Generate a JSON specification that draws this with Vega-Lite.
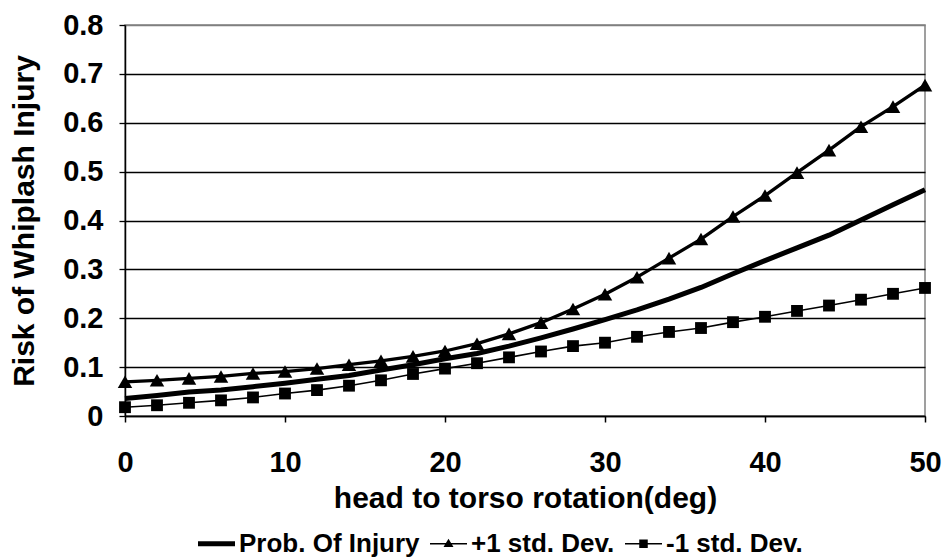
{
  "$schema": "https://vega.github.io/schema/vega-lite/v6.json",
  "width": 800,
  "height": 391,
  "autosize": {"type": "none"},
  "padding": {"left": 125, "top": 25, "right": 17, "bottom": 143},
  "background": "white",
  "config": {
    "font": "Liberation Sans",
    "view": {"stroke": "#808080", "strokeWidth": 1.5}
  },
  "data": {
    "values": [
      {"deg": 0, "series": "Prob. Of Injury", "risk": 0.036},
      {"deg": 2, "series": "Prob. Of Injury", "risk": 0.042},
      {"deg": 4, "series": "Prob. Of Injury", "risk": 0.049},
      {"deg": 6, "series": "Prob. Of Injury", "risk": 0.053},
      {"deg": 8, "series": "Prob. Of Injury", "risk": 0.06},
      {"deg": 10, "series": "Prob. Of Injury", "risk": 0.067},
      {"deg": 12, "series": "Prob. Of Injury", "risk": 0.075},
      {"deg": 14, "series": "Prob. Of Injury", "risk": 0.083},
      {"deg": 16, "series": "Prob. Of Injury", "risk": 0.094},
      {"deg": 18, "series": "Prob. Of Injury", "risk": 0.105},
      {"deg": 20, "series": "Prob. Of Injury", "risk": 0.117},
      {"deg": 22, "series": "Prob. Of Injury", "risk": 0.128},
      {"deg": 24, "series": "Prob. Of Injury", "risk": 0.143},
      {"deg": 26, "series": "Prob. Of Injury", "risk": 0.16},
      {"deg": 28, "series": "Prob. Of Injury", "risk": 0.178},
      {"deg": 30, "series": "Prob. Of Injury", "risk": 0.197},
      {"deg": 32, "series": "Prob. Of Injury", "risk": 0.217},
      {"deg": 34, "series": "Prob. Of Injury", "risk": 0.239},
      {"deg": 36, "series": "Prob. Of Injury", "risk": 0.263},
      {"deg": 38, "series": "Prob. Of Injury", "risk": 0.291},
      {"deg": 40, "series": "Prob. Of Injury", "risk": 0.318},
      {"deg": 42, "series": "Prob. Of Injury", "risk": 0.344},
      {"deg": 44, "series": "Prob. Of Injury", "risk": 0.37},
      {"deg": 46, "series": "Prob. Of Injury", "risk": 0.401},
      {"deg": 48, "series": "Prob. Of Injury", "risk": 0.432},
      {"deg": 50, "series": "Prob. Of Injury", "risk": 0.463},
      {"deg": 0, "series": "+1 std. Dev.", "risk": 0.07},
      {"deg": 2, "series": "+1 std. Dev.", "risk": 0.073},
      {"deg": 4, "series": "+1 std. Dev.", "risk": 0.077},
      {"deg": 6, "series": "+1 std. Dev.", "risk": 0.081},
      {"deg": 8, "series": "+1 std. Dev.", "risk": 0.087},
      {"deg": 10, "series": "+1 std. Dev.", "risk": 0.091},
      {"deg": 12, "series": "+1 std. Dev.", "risk": 0.097},
      {"deg": 14, "series": "+1 std. Dev.", "risk": 0.105},
      {"deg": 16, "series": "+1 std. Dev.", "risk": 0.113},
      {"deg": 18, "series": "+1 std. Dev.", "risk": 0.122},
      {"deg": 20, "series": "+1 std. Dev.", "risk": 0.133},
      {"deg": 22, "series": "+1 std. Dev.", "risk": 0.148},
      {"deg": 24, "series": "+1 std. Dev.", "risk": 0.168},
      {"deg": 26, "series": "+1 std. Dev.", "risk": 0.191},
      {"deg": 28, "series": "+1 std. Dev.", "risk": 0.219},
      {"deg": 30, "series": "+1 std. Dev.", "risk": 0.249},
      {"deg": 32, "series": "+1 std. Dev.", "risk": 0.284},
      {"deg": 34, "series": "+1 std. Dev.", "risk": 0.323},
      {"deg": 36, "series": "+1 std. Dev.", "risk": 0.362},
      {"deg": 38, "series": "+1 std. Dev.", "risk": 0.408},
      {"deg": 40, "series": "+1 std. Dev.", "risk": 0.451},
      {"deg": 42, "series": "+1 std. Dev.", "risk": 0.498},
      {"deg": 44, "series": "+1 std. Dev.", "risk": 0.544},
      {"deg": 46, "series": "+1 std. Dev.", "risk": 0.592},
      {"deg": 48, "series": "+1 std. Dev.", "risk": 0.633},
      {"deg": 50, "series": "+1 std. Dev.", "risk": 0.677},
      {"deg": 0, "series": "-1 std. Dev.", "risk": 0.018},
      {"deg": 2, "series": "-1 std. Dev.", "risk": 0.022},
      {"deg": 4, "series": "-1 std. Dev.", "risk": 0.027},
      {"deg": 6, "series": "-1 std. Dev.", "risk": 0.032},
      {"deg": 8, "series": "-1 std. Dev.", "risk": 0.038},
      {"deg": 10, "series": "-1 std. Dev.", "risk": 0.046},
      {"deg": 12, "series": "-1 std. Dev.", "risk": 0.053},
      {"deg": 14, "series": "-1 std. Dev.", "risk": 0.062},
      {"deg": 16, "series": "-1 std. Dev.", "risk": 0.073},
      {"deg": 18, "series": "-1 std. Dev.", "risk": 0.086},
      {"deg": 20, "series": "-1 std. Dev.", "risk": 0.097},
      {"deg": 22, "series": "-1 std. Dev.", "risk": 0.108},
      {"deg": 24, "series": "-1 std. Dev.", "risk": 0.12},
      {"deg": 26, "series": "-1 std. Dev.", "risk": 0.132},
      {"deg": 28, "series": "-1 std. Dev.", "risk": 0.143},
      {"deg": 30, "series": "-1 std. Dev.", "risk": 0.15},
      {"deg": 32, "series": "-1 std. Dev.", "risk": 0.162},
      {"deg": 34, "series": "-1 std. Dev.", "risk": 0.172},
      {"deg": 36, "series": "-1 std. Dev.", "risk": 0.18},
      {"deg": 38, "series": "-1 std. Dev.", "risk": 0.192},
      {"deg": 40, "series": "-1 std. Dev.", "risk": 0.203},
      {"deg": 42, "series": "-1 std. Dev.", "risk": 0.215},
      {"deg": 44, "series": "-1 std. Dev.", "risk": 0.226},
      {"deg": 46, "series": "-1 std. Dev.", "risk": 0.238},
      {"deg": 48, "series": "-1 std. Dev.", "risk": 0.25},
      {"deg": 50, "series": "-1 std. Dev.", "risk": 0.262}
    ]
  },
  "encoding": {
    "x": {
      "field": "deg",
      "type": "quantitative",
      "scale": {"domain": [0, 50], "nice": false, "zero": false},
      "axis": {
        "title": "head to torso rotation(deg)",
        "values": [0, 10, 20, 30, 40, 50],
        "grid": false,
        "domainColor": "black",
        "domainWidth": 1.5,
        "tickColor": "black",
        "tickSize": 6,
        "tickWidth": 1.5,
        "labelFont": "Liberation Sans",
        "labelFontSize": 29,
        "labelFontWeight": "bold",
        "labelColor": "black",
        "labelPadding": 26,
        "labelFlush": false,
        "titleFont": "Liberation Sans",
        "titleFontSize": 30,
        "titleFontWeight": "bold",
        "titleColor": "black",
        "titlePadding": 6
      }
    },
    "y": {
      "field": "risk",
      "type": "quantitative",
      "scale": {"domain": [0, 0.8], "nice": false},
      "axis": {
        "title": "Risk of Whiplash Injury",
        "values": [0, 0.1, 0.2, 0.3, 0.4, 0.5, 0.6, 0.7, 0.8],
        "labelExpr": "datum.value == 0 ? '0' : format(datum.value, '.1f')",
        "grid": true,
        "gridColor": {"condition": {"test": "datum.value > 0.75", "value": "#808080"}, "value": "black"},
        "gridWidth": 1.3,
        "domainColor": "black",
        "domainWidth": 1.5,
        "tickColor": "black",
        "tickSize": 6,
        "tickWidth": 1.3,
        "labelFont": "Liberation Sans",
        "labelFontSize": 29,
        "labelFontWeight": "bold",
        "labelColor": "black",
        "labelPadding": 16,
        "labelFlush": false,
        "titleFont": "Liberation Sans",
        "titleFontSize": 30,
        "titleFontWeight": "bold",
        "titleColor": "black",
        "titlePadding": 23
      }
    }
  },
  "layer": [
    {
      "mark": {"type": "line", "color": "black", "strokeJoin": "round"},
      "encoding": {
        "detail": {"field": "series", "type": "nominal"},
        "strokeWidth": {
          "field": "series",
          "type": "nominal",
          "scale": {"domain": ["Prob. Of Injury", "+1 std. Dev.", "-1 std. Dev."], "range": [5, 1.6, 1.6]},
          "legend": null
        }
      }
    },
    {
      "transform": [{"filter": "datum.series != 'Prob. Of Injury'"}],
      "mark": {"type": "point", "filled": true, "color": "black", "opacity": 1},
      "encoding": {
        "shape": {
          "field": "series",
          "type": "nominal",
          "scale": {"domain": ["+1 std. Dev.", "-1 std. Dev."], "range": ["triangle-up", "square"]},
          "legend": null
        },
        "size": {
          "field": "series",
          "type": "nominal",
          "scale": {"domain": ["+1 std. Dev.", "-1 std. Dev."], "range": [210, 140]},
          "legend": null
        }
      }
    },
    {
      "mark": {"type": "point", "filled": true, "color": "black", "opacity": 0},
      "encoding": {
        "shape": {
          "field": "series",
          "type": "nominal",
          "scale": {
            "domain": ["Prob. Of Injury", "+1 std. Dev.", "-1 std. Dev."],
            "range": [
              "M-1,-0.13H1V0.13H-1Z",
              "M-1,-0.045H1V0.045H-1ZM0,-0.27L0.27,0.18H-0.27Z",
              "M-1,-0.045H1V0.045H-1ZM-0.23,-0.23H0.23V0.23H-0.23Z"
            ]
          },
          "legend": {
            "orient": "none",
            "legendX": 73,
            "legendY": 500,
            "direction": "horizontal",
            "title": null,
            "padding": 0,
            "symbolSize": 1369,
            "symbolFillColor": "black",
            "symbolStrokeColor": "black",
            "symbolStrokeWidth": 0,
            "symbolOpacity": 1,
            "labelFont": "Liberation Sans",
            "labelFontSize": 26,
            "labelFontWeight": "bold",
            "labelColor": "black",
            "labelOffset": 4,
            "labelLimit": 0,
            "columnPadding": 10
          }
        }
      }
    }
  ],
  "resolve": {"scale": {"shape": "independent", "size": "independent"}}
}
